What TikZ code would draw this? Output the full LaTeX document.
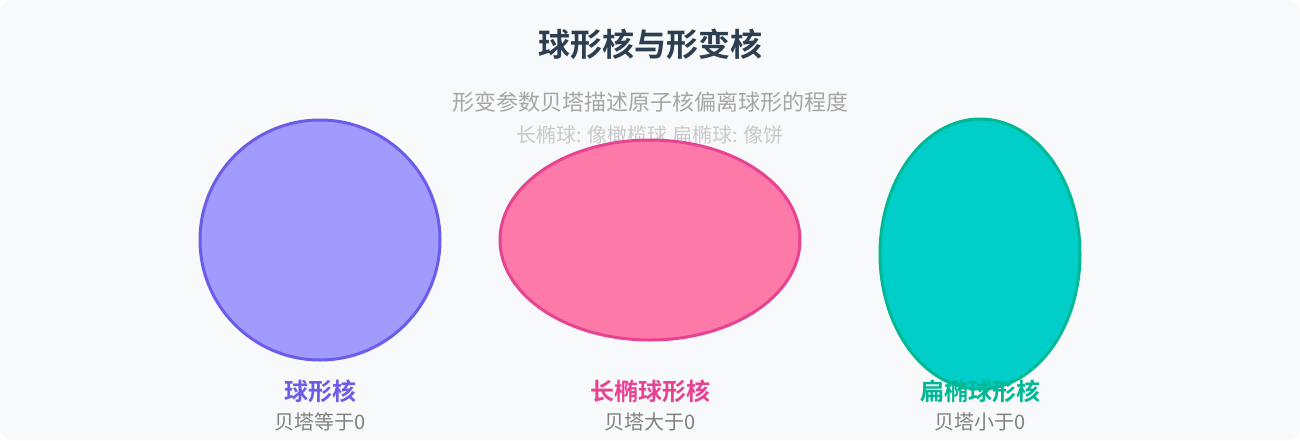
\documentclass[tikz,border=0pt]{standalone}
\usepackage{fontspec}
\setmainfont{Noto Sans CJK SC}[BoldFont={Noto Sans CJK SC Bold}]
\usepackage{tikz}
\usetikzlibrary{shapes,positioning,calc}
\usepackage{xcolor}

\definecolor{bgpanel}{HTML}{F8F9FA}
\definecolor{titlecol}{HTML}{2C3E50}
\definecolor{subgray}{HTML}{A6A6A6}
\definecolor{notegray}{HTML}{CACACA}
\definecolor{betagray}{HTML}{808080}
\definecolor{sphfill}{HTML}{A29BFE}
\definecolor{sphline}{HTML}{6C5CE7}
\definecolor{profill}{HTML}{FD79A8}
\definecolor{proline}{HTML}{E84393}
\definecolor{oblfill}{HTML}{00CEC9}
\definecolor{oblline}{HTML}{00B894}

\tikzset{
    nucleus/.style={line width=2.25pt},
    shapename/.style={font=\fontsize{18}{20}\selectfont\bfseries},
    betatext/.style={text=betagray, font=\fontsize{15}{17}\selectfont},
}

\begin{document}
\begin{tikzpicture}[x=0.75pt, y=-0.75pt]
    \useasboundingbox (0, 0) rectangle (1300, 440);
    \fill[white] (0, 0) rectangle (1300, 440);
    \fill[bgpanel, rounded corners=9pt] (0, 0) rectangle (1300, 440);

    % Title and notes
    \node[text=titlecol, font=\fontsize{24}{28}\selectfont\bfseries] (title) at (650, 44) {球形核与形变核};
    \node[text=subgray, font=\fontsize{16.5}{19}\selectfont] (subtitle) at (650, 102) {形变参数贝塔描述原子核偏离球形的程度};
    \node[text=notegray, font=\fontsize{15}{17}\selectfont] (note) at (650, 135) {长椭球: 像橄榄球 扁椭球: 像饼};

    % Spherical nucleus
    \node[nucleus, circle, draw=sphline, fill=sphfill, minimum size=180pt, inner sep=0pt] (sphere) at (320, 240) {};
    \node[shapename, text=sphline] (spherelabel) at (320, 391) {球形核};
    \node[betatext] (spherebeta) at (320, 422) {贝塔等于0};

    % Prolate nucleus
    \node[nucleus, ellipse, draw=proline, fill=profill, minimum width=225pt, minimum height=150pt, inner sep=0pt] (prolate) at (650, 240) {};
    \node[shapename, text=proline] (prolatelabel) at (650, 391) {长椭球形核};
    \node[betatext] (prolatebeta) at (650, 422) {贝塔大于0};

    % Oblate nucleus
    \node[nucleus, ellipse, draw=oblline, fill=oblfill, minimum width=150pt, minimum height=202.5pt, inner sep=0pt] (oblate) at (980, 254) {};
    \node[shapename, text=oblline] (oblatelabel) at (980, 391) {扁椭球形核};
    \node[betatext] (oblatebeta) at (980, 422) {贝塔小于0};
\end{tikzpicture}
\end{document}
